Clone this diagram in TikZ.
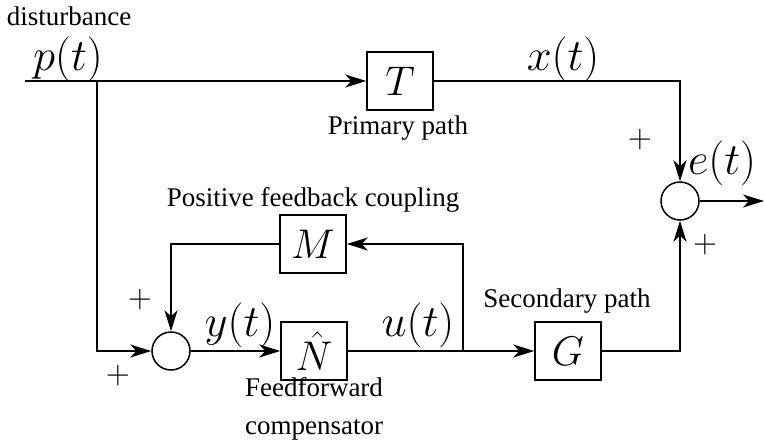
\documentclass[tikz,border=0pt]{standalone}
\usepackage{amsmath}
\usepackage{fontspec}
\setmainfont{Liberation Serif}
\usepackage{tikz}
\usetikzlibrary{arrows.meta,calc,positioning}

\begin{document}
\begin{tikzpicture}[x=0.5pt,y=-0.5pt,>={Stealth[length=10.5pt,width=6.5pt,inset=3pt]},line width=0.75pt,
  block/.style={draw,minimum width=33pt,minimum height=29pt,inner sep=0pt,font=\fontsize{20.74}{23}\selectfont},
  sumc/.style={draw,circle,minimum size=19pt,inner sep=0pt},
  sig/.style={font=\fontsize{20.74}{24}\selectfont,scale=1.08},
  lbl/.style={font=\fontsize{13.5}{16}\selectfont,align=center,inner sep=1pt},
  sgn/.style={font=\fontsize{14.4}{17}\selectfont,scale=1.1}]
\useasboundingbox (0,0) rectangle (764,439);
% blocks
\node[block] (T) at (400,81) {$T$};
\node[block] (M) at (313,244) {$M$};
\node[block] (N) at (314,351) {$\hat{N}$};
\node[block] (G) at (568,351) {$G$};
\node[sumc] (s1) at (171,351) {};
\node[sumc] (s2) at (680,201) {};
\coordinate (in) at (25,81);
\coordinate (b1) at (97,81);
\coordinate (b2) at (463,351);
\coordinate (out) at (764,201);
% connections
\draw[->] (in) -- (T.west);
\draw[->] (T.east) -| (s2.north);
\draw[->] (s2.east) -- (out);
\draw[->] (b1) |- (s1.west);
\draw[->] (s1.east) -- (N.west);
\draw[->] (N.east) -- (G.west);
\draw[->] (b2) |- (M.east);
\draw[->] (M.west) -| (s1.north);
\draw[->] (G.east) -| (s2.south);
% labels
\node[lbl] (dist) at (69,16) {disturbance};
\node[sig] (p) at (68,59) {$p(t)$};
\node[sig] (x) at (563,59) {$x(t)$};
\node[sig] (e) at (722,163) {$e(t)$};
\node[sig] (y) at (240,325) {$y(t)$};
\node[sig] (u) at (418,325) {$u(t)$};
\node[lbl] (prim) at (398,128) {Primary path};
\node[lbl] (pos) at (313,200) {Positive feedback coupling};
\node[lbl] (sec) at (567,301) {Secondary path};
\node[lbl] (ff) at (314,409) {Feedforward\\[3pt]compensator};
\node[sgn] (pl1) at (640,140) {$+$};
\node[sgn] (pl2) at (705,245) {$+$};
\node[sgn] (pl3) at (140,300) {$+$};
\node[sgn] (pl4) at (118,376) {$+$};
\end{tikzpicture}
\end{document}
